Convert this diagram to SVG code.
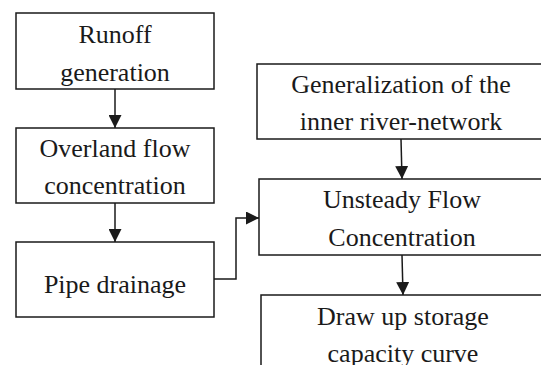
<svg xmlns="http://www.w3.org/2000/svg" width="541" height="365" viewBox="0 0 541 365">
<defs>
<style>
.box{fill:#fff;stroke:#1a1a1a;stroke-width:1.5}
.t{font-family:"Liberation Serif","Times New Roman",serif;font-size:26px;fill:#1a1a1a;text-anchor:middle}
.c{fill:none;stroke:#1a1a1a;stroke-width:1.5}
</style>
<marker id="ah" viewBox="0 0 13 13" refX="13" refY="6.5" markerWidth="13" markerHeight="13" markerUnits="userSpaceOnUse" orient="auto">
<path d="M0,0 L13,6.5 L0,13 Z" fill="#1a1a1a"/>
</marker>
</defs>
<rect width="541" height="365" fill="#fff"/>
<g id="runoff">
<rect class="box" x="16" y="13" width="198" height="76"/>
<text class="t" x="115" y="43">Runoff</text>
<text class="t" x="115" y="81">generation</text>
</g>
<g id="overland">
<rect class="box" x="16" y="128" width="198" height="75"/>
<text class="t" x="115" y="157">Overland flow</text>
<text class="t" x="115" y="194">concentration</text>
</g>
<g id="pipe">
<rect class="box" x="16" y="242" width="198" height="75"/>
<text class="t" x="115" y="293">Pipe drainage</text>
</g>
<g id="general">
<rect class="box" x="257" y="64" width="290" height="75"/>
<text class="t" x="401" y="93">Generalization of the</text>
<text class="t" x="401" y="130">inner river-network</text>
</g>
<g id="unsteady">
<rect class="box" x="259" y="179" width="290" height="76"/>
<text class="t" x="402" y="208">Unsteady Flow</text>
<text class="t" x="402" y="246">Concentration</text>
</g>
<g id="drawup">
<rect class="box" x="261" y="295" width="290" height="80"/>
<text class="t" x="403" y="325">Draw up storage</text>
<text class="t" x="403" y="362">capacity curve</text>
</g>
<g id="connectors">
<path class="c" d="M115,89 V128" marker-end="url(#ah)"/>
<path class="c" d="M115,203 V242" marker-end="url(#ah)"/>
<path class="c" d="M214,279 H236 V218 H259" marker-end="url(#ah)"/>
<path class="c" d="M401,139 L402,179" marker-end="url(#ah)"/>
<path class="c" d="M402,255 L403,295" marker-end="url(#ah)"/>
</g>
</svg>
